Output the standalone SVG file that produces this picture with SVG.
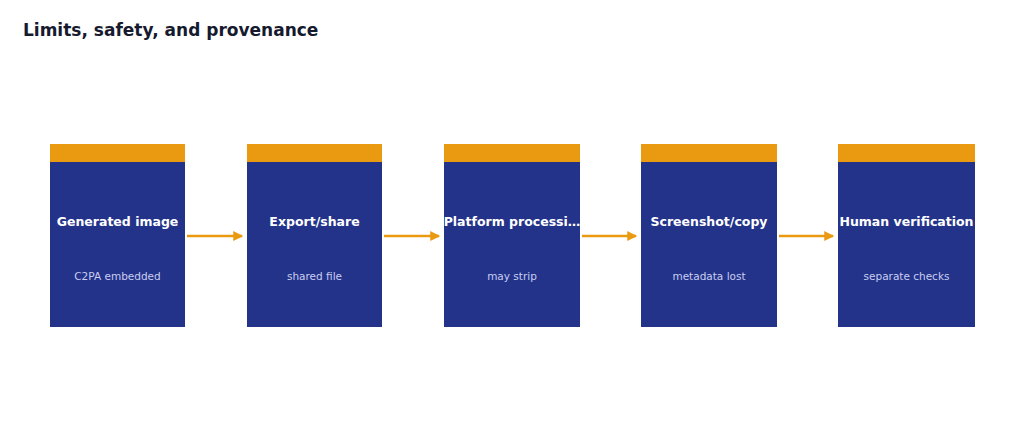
<svg xmlns="http://www.w3.org/2000/svg" width="1024" height="441" viewBox="0 0 1024 441">
<style>
.box{fill:#23338a}.bar{fill:#e99a10}
.t{font-family:"DejaVu Sans",sans-serif;font-size:12.5px;font-weight:bold;fill:#fff;text-anchor:middle}
.s{font-family:"DejaVu Sans",sans-serif;font-size:10.5px;fill:#c9cdf0;text-anchor:middle}
.c{stroke:#e99a10;stroke-width:2.5;fill:none;marker-end:url(#a)}
</style>
<defs><marker id="a" markerWidth="4" markerHeight="4" refX="3.5" refY="2" orient="auto"><path d="M0,0L4,2L0,4z" fill="#e99a10"/></marker></defs>
<rect width="1024" height="441" fill="#fff"/>
<text x="23" y="36" font-family="DejaVu Sans,sans-serif" font-size="17" font-weight="bold" fill="#161a2e">Limits, safety, and provenance</text>
<g id="n1"><rect class="box" x="50" y="144" width="135" height="183"/><rect class="bar" x="50" y="144" width="135" height="18"/><text class="t" x="117.5" y="226">Generated image</text><text class="s" x="117.5" y="280">C2PA embedded</text></g>
<g id="n2"><rect class="box" x="247" y="144" width="135" height="183"/><rect class="bar" x="247" y="144" width="135" height="18"/><text class="t" x="314.5" y="226">Export/share</text><text class="s" x="314.5" y="280">shared file</text></g>
<g id="n3"><rect class="box" x="444" y="144" width="136" height="183"/><rect class="bar" x="444" y="144" width="136" height="18"/><text class="t" x="512" y="226">Platform processi…</text><text class="s" x="512" y="280">may strip</text></g>
<g id="n4"><rect class="box" x="641" y="144" width="136" height="183"/><rect class="bar" x="641" y="144" width="136" height="18"/><text class="t" x="709" y="226">Screenshot/copy</text><text class="s" x="709" y="280">metadata lost</text></g>
<g id="n5"><rect class="box" x="838" y="144" width="137" height="183"/><rect class="bar" x="838" y="144" width="137" height="18"/><text class="t" x="906.5" y="226">Human verification</text><text class="s" x="906.5" y="280">separate checks</text></g>
<g id="connectors">
<path class="c" d="M187 236H242"/><path class="c" d="M384 236H439"/><path class="c" d="M582 236H636"/><path class="c" d="M779 236H833"/>
</g>
</svg>
